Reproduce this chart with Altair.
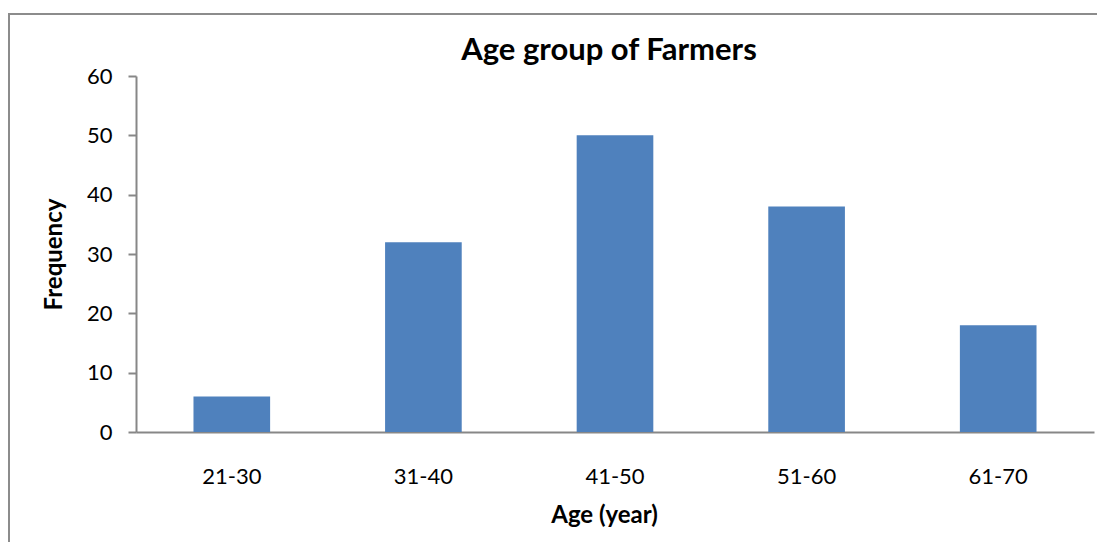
import altair as alt
import pandas as pd

age_groups = ["21-30", "31-40", "41-50", "51-60", "61-70"]
frequency = [6, 32, 50, 38, 18]

df = pd.DataFrame({"Age": age_groups, "Frequency": frequency})

FONT = "Lato"
GRAY = "#878787"

bars = alt.Chart(df).mark_bar(color="#4F81BD").encode(
    x=alt.X(
        "Age:N",
        sort=age_groups,
        scale=alt.Scale(paddingInner=0.6, paddingOuter=0.3),
        axis=alt.Axis(
            title="Age (year)",
            labelAngle=0,
            ticks=False,
            tickSize=0,
            labelPadding=34,
            labelFontSize=22,
            labelFont=FONT,
            labelColor="#000000",
            titleFont=FONT,
            titleFontSize=24,
            titleFontWeight="bold",
            titleColor="#000000",
            titlePadding=16,
            titleX=468,
            domainColor=GRAY,
            domainWidth=2,
        ),
    ),
    y=alt.Y(
        "Frequency:Q",
        scale=alt.Scale(domain=[0, 60], nice=False),
        axis=alt.Axis(
            title="Frequency",
            values=[0, 10, 20, 30, 40, 50, 60],
            grid=False,
            tickSize=8,
            tickColor=GRAY,
            tickWidth=2,
            labelPadding=16,
            labelFontSize=22,
            labelFont=FONT,
            labelColor="#000000",
            titleFont=FONT,
            titleFontSize=24,
            titleFontWeight="bold",
            titleColor="#000000",
            titlePadding=20,
            domainColor=GRAY,
            domainWidth=2,
        ),
    ),
)

frame = alt.Chart(pd.DataFrame({"f": [0]})).mark_rect(
    fill=None, stroke="#8c8c8c", strokeWidth=2
).encode(
    x=alt.value(-127),
    x2=alt.value(990),
    y=alt.value(-62),
    y2=alt.value(500),
)

chart = alt.layer(frame, bars).properties(
    width=958,
    height=356,
    title=alt.TitleParams(
        "Age group of Farmers",
        font=FONT,
        fontSize=31,
        fontWeight="bold",
        color="#000000",
        anchor="middle",
        frame="group",
        dx=-6,
        dy=68,
        offset=14,
    ),
    autosize=alt.AutoSizeParams(type="none"),
    padding={"left": 128, "top": 68, "right": 3, "bottom": 110},
).configure_view(stroke=None)

chart.save("out.html", embed_options={"renderer": "svg", "actions": False})
